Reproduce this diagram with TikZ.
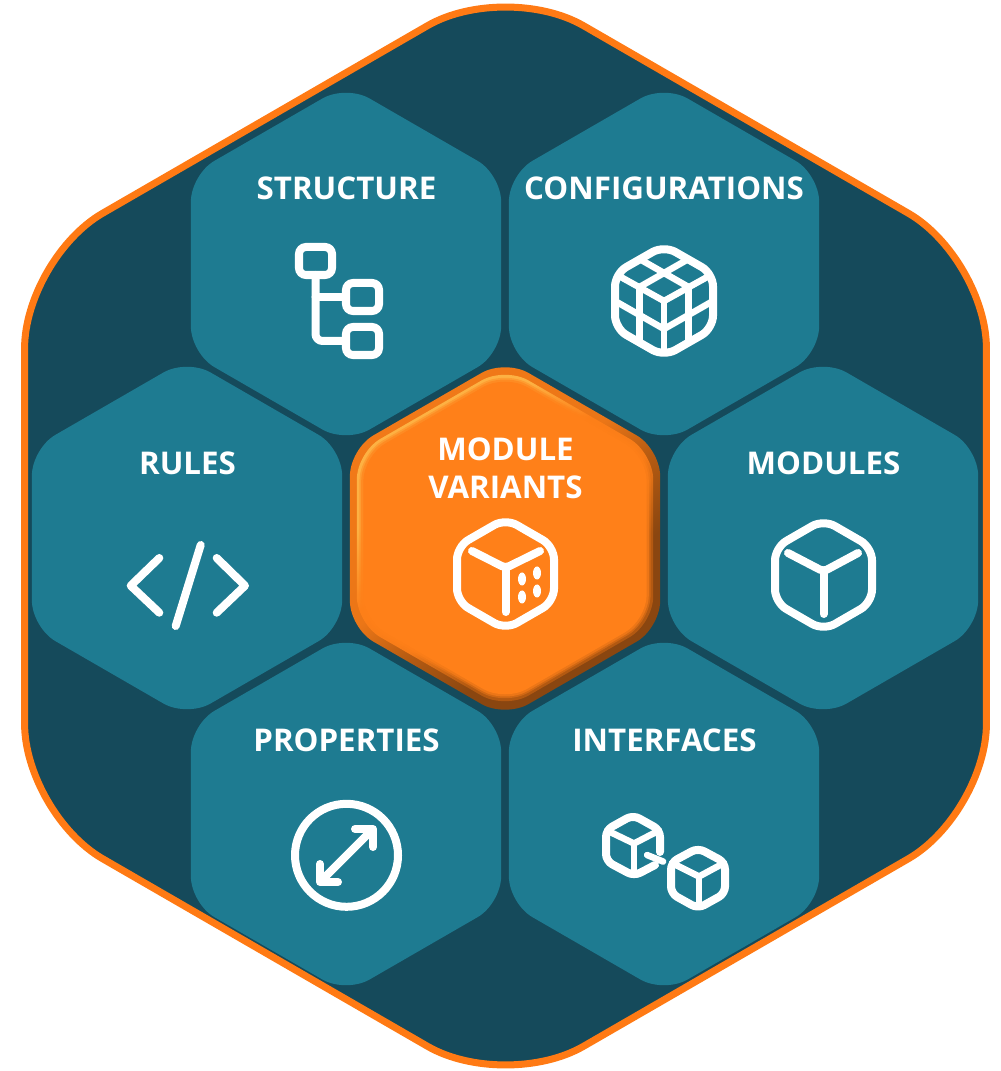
\documentclass[tikz,border=0pt]{standalone}
\usepackage{fontspec}
\setmainfont{Open Sans}
\usetikzlibrary{shapes.geometric}
\definecolor{hexdark}{HTML}{154A5B}
\definecolor{hexteal}{HTML}{1E7B91}
\definecolor{hexorange}{HTML}{FF8019}
\definecolor{hexrim}{HTML}{FF7A14}
\definecolor{hexlight}{HTML}{FFB848}
\definecolor{hexbrown}{HTML}{8A4610}
\pgfdeclareverticalshading{hexbevel}{100bp}{color(0bp)=(hexbrown); color(36bp)=(hexbrown); color(46bp)=(hexorange!72!black); color(54bp)=(hexorange!92!black); color(100bp)=(hexorange!98!black)}
\pgfdeclareverticalshading{hexgleam}{100bp}{color(0bp)=(hexorange!72!black); color(36bp)=(hexorange!72!black); color(46bp)=(hexorange); color(56bp)=(hexorange); color(66bp)=(hexlight); color(100bp)=(hexlight)}
\tikzset{
  hexshape/.style={regular polygon, regular polygon sides=6, shape border rotate=30, inner sep=0pt, outer sep=0pt},
  hexcell/.style={hexshape, fill=hexteal, minimum size=3.58cm, rounded corners=0.27cm},
  hexlabel/.style={text=white, font=\fontsize{8.9}{10.67}\selectfont\bfseries, inner sep=0pt},
  iconline/.style={draw=white, line width=0.08cm, line cap=round, line join=round},
  iconthin/.style={draw=white, line width=0.065cm, line cap=round, line join=round},
  treebox/.style={draw=white, line width=0.08cm, rectangle, rounded corners=0.07cm, minimum width=0.33cm, minimum height=0.28cm, inner sep=0pt, outer sep=0pt}
}
\begin{document}
\begin{tikzpicture}[x=0.01cm, y=-0.01cm]
        \useasboundingbox (0, 0) rectangle (1000, 1071);
        % outer frame
        \node [hexshape, fill=hexdark, draw=hexrim, line width=0.07cm, minimum size=11.1cm, rounded corners=0.9cm] (frame) at (505.5, 536) {};
        % six cells
        \node [hexcell] (structure) at (346, 264) {};
        \node [hexcell] (configurations) at (664, 264) {};
        \node [hexcell] (rules) at (187, 538) {};
        \node [hexcell] (modules) at (823, 538) {};
        \node [hexcell] (properties) at (346, 814) {};
        \node [hexcell] (interfaces) at (664, 814) {};
        % centre cell, bevel built up in layers
        \node [hexshape, minimum size=3.58cm, rounded corners=0.27cm, shading=hexbevel, shading angle=40] (variants) at (505, 538.5) {};
        \node [hexshape, minimum size=3.42cm, rounded corners=0.27cm, shading=hexgleam, shading angle=40, opacity=0.9] (variantsrim) at (505, 538) {};
        \node [hexshape, fill=hexorange, opacity=0.4, minimum size=3.36cm, rounded corners=0.27cm] (variantsglow) at (505, 538) {};
        \node [hexshape, fill=hexorange, opacity=0.6, minimum size=3.32cm, rounded corners=0.26cm] (variantsglowb) at (505, 538) {};
        \node [hexshape, fill=hexorange, minimum size=3.27cm, rounded corners=0.25cm] (variantsface) at (505, 538) {};
        % labels
        \node [hexlabel, anchor=base] (structuretext) at (346.5, 199.5) {STRUCTURE};
        \node [hexlabel, anchor=base] (configurationstext) at (664, 199.5) {CONFIGURATIONS};
        \node [hexlabel, anchor=base] (rulestext) at (187.5, 474.5) {RULES};
        \node [hexlabel, anchor=base] (modulestext) at (823.5, 474.5) {MODULES};
        \node [hexlabel, anchor=base] (propertiestext) at (346.5, 751) {PROPERTIES};
        \node [hexlabel, anchor=base] (interfacestext) at (664.5, 751) {INTERFACES};
        \node [hexlabel, align=center] (variantstext) at (505.5, 468.5) {MODULE\\VARIANTS};
        % structure icon
        \node [treebox] (treetop) at (315.5, 261) {};
        \node [treebox] (treemid) at (362.5, 297) {};
        \node [treebox] (treelow) at (362.5, 341) {};
        \draw [iconline, rounded corners=0.07cm] (treetop.south) |- (treelow.west);
        \draw [iconline] (treetop.south |- treemid.west) -- (treemid.west);
        % configurations icon
        \draw [iconline, rounded corners=0.13cm] (664, 245.5) -- (713, 273.5) -- (713, 328.5) -- (664, 356.5) -- (615, 328.5) -- (615, 273.5) -- cycle;
        \draw [iconthin] (619, 276) -- (664, 301) -- (709, 276);
        \draw [iconthin] (664, 301) -- (664, 352);
        \draw [iconthin] (639.5, 259) -- (688.5, 287);
        \draw [iconthin] (688.5, 259) -- (639.5, 287);
        \draw [iconthin] (639.5, 287) -- (639.5, 343);
        \draw [iconthin] (688.5, 287) -- (688.5, 343);
        \draw [iconthin] (615, 301) -- (664, 329) -- (713, 301);
        % rules icon
        \draw [iconline] (159.3, 558) -- (130.7, 585.7) -- (159.3, 612.7);
        \draw [iconline] (200.7, 545) -- (175.7, 626);
        \draw [iconline] (216.7, 558) -- (245, 585.7) -- (216.7, 612.7);
        % variants icon
        \draw [iconline, rounded corners=0.13cm] (505.5, 518.5) -- (554, 546.5) -- (554, 601.5) -- (505.5, 629.5) -- (457, 601.5) -- (457, 546.5) -- cycle;
        \draw [iconline, rounded corners=0.04cm] (472, 551) -- (505.5, 568) -- (540, 551);
        \draw [iconline] (505.5, 568) -- (505.5, 612);
        \fill [white] (522, 579) ellipse [x radius=4, y radius=6.5];
        \fill [white] (537, 573) ellipse [x radius=4, y radius=6.5];
        \fill [white] (522, 597) ellipse [x radius=4, y radius=6.5];
        \fill [white] (537, 591) ellipse [x radius=4, y radius=6.5];
        % modules icon
        \draw [iconline, rounded corners=0.13cm] (823.5, 519.5) -- (872, 547.5) -- (872, 602.5) -- (823.5, 630.5) -- (775, 602.5) -- (775, 547.5) -- cycle;
        \draw [iconline, rounded corners=0.04cm] (788, 553) -- (823.5, 571.5) -- (858, 553);
        \draw [iconline] (823.5, 571.5) -- (823.5, 614);
        % properties icon
        \draw [iconline] (346.5, 855.3) circle [radius=51.5];
        \draw [iconline] (322, 880) -- (372, 830);
        \draw [iconline] (355, 829) -- (373, 829) -- (373, 847);
        \draw [iconline] (320, 864) -- (320, 882) -- (338, 882);
        % interfaces icon
        \draw [iconline, rounded corners=0.07cm] (660, 852) -- (660, 830) -- (633, 815) -- (606, 830) -- (606, 861) -- (634, 876) -- (655, 865);
        \draw [iconthin] (607, 830.5) -- (634, 843.5) -- (659, 830.5);
        \draw [iconthin] (634, 843.5) -- (634, 873);
        \draw [iconthin] (647, 855) -- (663, 861.5);
        \draw [iconline, rounded corners=0.07cm] (698, 848) -- (725, 862.5) -- (725, 893.5) -- (698, 908.5) -- (671, 893.5) -- (671, 862.5) -- cycle;
        \draw [iconthin] (672, 863) -- (699, 876.5) -- (724, 863);
        \draw [iconthin] (699, 876.5) -- (699, 906);
\end{tikzpicture}
\end{document}
